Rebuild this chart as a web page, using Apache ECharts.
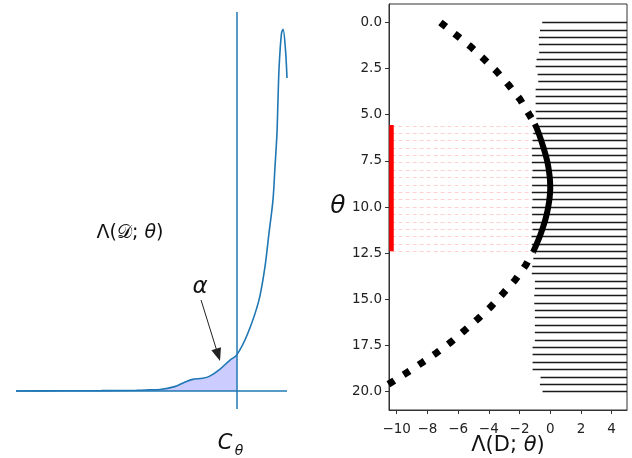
<!DOCTYPE html>
<html>
<head>
<meta charset="utf-8">
<script src="https://cdn.jsdelivr.net/npm/echarts@6/dist/echarts.min.js"></script>
<style>
  html, body { margin: 0; padding: 0; background: #fff; }
  #main { width: 632px; height: 458px; }
</style>
</head>
<body>
<div id="main"></div>
<script>
// left panel: density of the statistic, cut at C_theta
const curveX = [-4.4, -3.5, -2.7, -2.0, -1.75, -1.53, -1.24, -1.04, -0.88, -0.68, -0.54, -0.34, -0.14, 0,
  0.22, 0.44, 0.56, 0.64, 0.72, 0.76, 0.80, 0.82, 0.843, 0.89, 0.922, 0.97, 1.0]
const curveY = [0, 0.005, 0.01, 0.02, 0.03, 0.04, 0.12, 0.24, 0.32, 0.35, 0.41, 0.6, 0.85, 1.0,
  1.6, 2.51, 3.43, 4.36, 5.28, 6.19, 7.13, 8.04, 8.99, 9.91, 10.02, 9.45, 8.67]
const cutX = 0
const arrowFrom = [-0.713, 2.52]
const arrowTo = [-0.373, 1.0]

// right panel: statistic per theta
const thetaRows = [0, 0.4, 0.8, 1.2, 1.6, 2.0, 2.4, 2.8, 3.2, 3.6, 4.0, 4.4, 4.8, 5.2, 5.6, 6.0, 6.4,
  6.8, 7.2, 7.6, 8.0, 8.4, 8.8, 9.2, 9.6, 10.0, 10.4, 10.8, 11.2, 11.6, 12.0, 12.4, 12.8, 13.2, 13.6,
  14.0, 14.4, 14.8, 15.2, 15.6, 16.0, 16.4, 16.8, 17.2, 17.6, 18.0, 18.4, 18.8, 19.2, 19.6, 20.0]
const rowStart = [-0.52, -0.67, -0.74, -0.74, -0.72, -0.89, -0.95, -0.82, -0.78, -0.95, -0.95, -0.95,
  -0.95, -0.9, -1.0, -1.1, -1.15, -1.2, -1.18, -1.2, -1.15, -1.2, -1.18, -1.2, -1.15, -1.2, -1.18,
  -1.2, -1.15, -1.22, -1.2, -1.2, -1.1, -1.17, -1.2, -1.0, -1.0, -1.04, -1.04, -1.0, -1.0, -1.0, -1.0,
  -1.0, -1.15, -1.15, -1.15, -1.15, -0.63, -0.67, -0.5]
const rowEnd = 5
const acceptFrom = 5.55
const acceptTo = 12.4
const redX = -10.33

const dottedTop = [[-7.15, 0], [-6.06, 0.72], [-5.17, 1.32], [-4.32, 1.98], [-3.47, 2.67],
  [-2.71, 3.39], [-1.97, 4.16], [-1.37, 4.99], [-1.0, 5.5]]
const dottedBottom = [[-1.11, 12.43], [-1.60, 13.16], [-2.30, 13.97], [-3.08, 14.69], [-3.86, 15.4],
  [-4.69, 16.05], [-5.58, 16.69], [-6.47, 17.32], [-7.40, 17.9], [-8.34, 18.43], [-9.32, 18.97],
  [-10.33, 19.5], [-11.3, 20.0]]
const solidArc = [[-1.0, 5.5], [-0.75, 6.0], [-0.55, 6.5], [-0.36, 7.0], [-0.2, 7.5], [-0.09, 8.0],
  [-0.02, 8.5], [0.0, 9.0], [-0.04, 9.5], [-0.13, 10.0], [-0.26, 10.5], [-0.43, 11.0], [-0.64, 11.5],
  [-0.88, 12.0], [-1.11, 12.43]]

const xTicks = [-10, -8, -6, -4, -2, 0, 2, 4]
const yTicks = [0, 2.5, 5, 7.5, 10, 12.5, 15, 17.5, 20]

const blue = '#1f77b4'
const font = 'DejaVu Sans'

let chart = echarts.init(document.getElementById('main'), null, { renderer: 'canvas' })

const curve = curveX.map((x, i) => [x, curveY[i]])
const shade = curve.filter(p => p[0] <= cutX)
const rowLines = thetaRows.map((t, i) => ({ coords: [[rowStart[i], t], [rowEnd, t]] }))
const pinkLines = []
thetaRows.forEach((t, i) => {
  if (t >= acceptFrom && t <= acceptTo) {
    pinkLines.push({ coords: [[redX, t], [rowStart[i], t]] })
  }
})

function minusFmt(v) {
  return v < 0 ? '\u2212' + Math.abs(v) : String(v)
}

const option = {
  animation: false,
  backgroundColor: '#fff',
  textStyle: { fontFamily: font },
  grid: [
    { left: 16, right: 345, top: 12, bottom: 49, show: false, outerBoundsMode: 'none' },
    { left: 389, right: 5, top: 4, bottom: 48, show: true, borderColor: '#333', borderWidth: 1, outerBoundsMode: 'none' }
  ],
  xAxis: [
    { gridIndex: 0, type: 'value', min: -4.4, max: 1.0, show: false },
    {
      gridIndex: 1, type: 'value', min: -10.5, max: 5,
      axisLine: { show: true, onZero: false, lineStyle: { color: '#333', width: 1 } },
      axisTick: { show: true, length: 4, customValues: xTicks, lineStyle: { color: '#333' } },
      axisLabel: { customValues: xTicks, formatter: minusFmt, fontSize: 13.5, color: '#222', margin: 12, fontFamily: font },
      splitLine: { show: false },
      name: '{n|\u039b(D; }{i|\u03b8}{n|)}',
      nameLocation: 'middle',
      nameMoveOverlap: false,
      nameGap: 25,
      nameTextStyle: {
        rich: {
          n: { fontSize: 21, fontFamily: font, color: '#111' },
          i: { fontSize: 21, fontFamily: font, fontStyle: 'italic', color: '#111' }
        }
      }
    }
  ],
  yAxis: [
    { gridIndex: 0, type: 'value', min: -0.5, max: 10.5, show: false },
    {
      gridIndex: 1, type: 'value', inverse: true, min: -1, max: 21,
      axisLine: { show: true, onZero: false, lineStyle: { color: '#333', width: 1 } },
      axisTick: { show: true, length: 4, customValues: yTicks, lineStyle: { color: '#333' } },
      axisLabel: { customValues: yTicks, formatter: v => v.toFixed(1), fontSize: 13.5, color: '#222', margin: 7, fontFamily: font },
      splitLine: { show: false }
    }
  ],
  graphic: [
    {
      type: 'text', x: 130, y: 233,
      style: {
        text: '{n|\u039b(}{c|\ud835\udc9f}{n|; }{i|\u03b8}{n|)}',
        rich: {
          n: { fontSize: 19, fontFamily: font, fill: '#111' },
          c: { fontSize: 19, fontFamily: font, fill: '#111' },
          i: { fontSize: 19, fontFamily: font, fontStyle: 'italic', fill: '#111' }
        },
        align: 'center', verticalAlign: 'middle'
      }
    },
    { type: 'text', x: 200, y: 287, style: { text: '\u03b1', font: 'italic 23px "DejaVu Sans"', fill: '#111', align: 'center', verticalAlign: 'middle' } },
    { type: 'text', x: 225, y: 444, style: { text: 'C', font: 'italic 21px "DejaVu Sans"', fill: '#111', align: 'center', verticalAlign: 'middle' } },
    { type: 'text', x: 239, y: 451, style: { text: '\u03b8', font: 'italic 14px "DejaVu Sans"', fill: '#111', align: 'center', verticalAlign: 'middle' } },
    { type: 'text', x: 338, y: 206, style: { text: '\u03b8', font: 'italic 25px "DejaVu Sans"', fill: '#111', align: 'center', verticalAlign: 'middle' } }
  ],
  series: [
    {
      type: 'line', xAxisIndex: 0, yAxisIndex: 0, data: shade,
      showSymbol: false, smooth: 0.3, silent: true, z: 1,
      lineStyle: { width: 0 },
      areaStyle: { color: '#ccccff', opacity: 1 },
      markLine: {
        silent: true, label: { show: false },
        lineStyle: { color: '#222', width: 1, type: 'solid' },
        data: [[
          { coord: arrowFrom, symbol: 'none' },
          { coord: arrowTo, symbol: 'triangle', symbolSize: [10, 13] }
        ]]
      }
    },
    {
      type: 'line', xAxisIndex: 0, yAxisIndex: 0, data: curve,
      showSymbol: false, smooth: 0.3, silent: true, z: 3,
      lineStyle: { color: blue, width: 1.6 },
      markLine: {
        silent: true, symbol: ['none', 'none'], label: { show: false },
        lineStyle: { color: blue, width: 1.5, type: 'solid' },
        data: [{ yAxis: 0 }, { xAxis: cutX }]
      }
    },
    {
      type: 'lines', coordinateSystem: 'cartesian2d', xAxisIndex: 1, yAxisIndex: 1,
      data: pinkLines, silent: true, z: 1,
      lineStyle: { color: '#ffd0d0', width: 1, type: [4, 3], opacity: 1 }
    },
    {
      type: 'lines', coordinateSystem: 'cartesian2d', xAxisIndex: 1, yAxisIndex: 1,
      data: rowLines, silent: true, z: 2,
      lineStyle: { color: '#1a1a1a', width: 1.3, opacity: 1 }
    },
    {
      type: 'lines', coordinateSystem: 'cartesian2d', xAxisIndex: 1, yAxisIndex: 1,
      data: [{ coords: [[redX, acceptFrom], [redX, acceptTo]] }], silent: true, z: 3,
      lineStyle: { color: '#ff0000', width: 4.5, opacity: 1, cap: 'butt' }
    },
    {
      type: 'line', xAxisIndex: 1, yAxisIndex: 1, data: dottedTop,
      showSymbol: false, silent: true, z: 4,
      lineStyle: { color: '#000', width: 7, type: [7, 11], cap: 'butt', dashOffset: 0 }
    },
    {
      type: 'line', xAxisIndex: 1, yAxisIndex: 1, data: dottedBottom,
      showSymbol: false, silent: true, z: 4,
      lineStyle: { color: '#000', width: 7, type: [7, 11], cap: 'butt', dashOffset: 6.5 }
    },
    {
      type: 'line', xAxisIndex: 1, yAxisIndex: 1, data: solidArc,
      showSymbol: false, smooth: 0.4, silent: true, z: 5,
      lineStyle: { color: '#000', width: 6, cap: 'butt' }
    }
  ]
}

chart.setOption(option)
</script>
</body>
</html>
